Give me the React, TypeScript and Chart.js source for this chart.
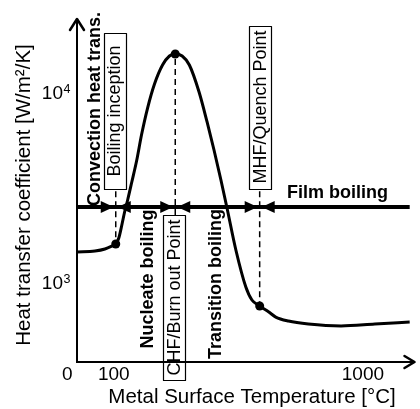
import React, { useEffect, useRef } from "react";
import { Chart, registerables } from "chart.js";

Chart.register(...registerables);

const FONT = "'Liberation Sans', Arial, Helvetica, sans-serif";

// Schematic boiling curve: metal surface temperature [°C] -> heat transfer coefficient [W/m²/K]
const curveT = [-33, 32, 68, 93, 107, 118, 129, 139, 150, 165, 183, 200, 222, 247, 276, 301, 322, 347, 373, 408, 437, 462, 487, 509, 541, 577, 599, 627, 660, 685, 731, 803, 921, 1043, 1169];
const curveH = [1439, 1456, 1492, 1546, 1585, 1704, 1995, 2336, 2702, 3360, 4386, 5938, 8236, 11020, 13870, 15470, 15850, 15470, 13870, 10000, 6955, 4952, 3442, 2452, 1474, 941, 804, 748, 695, 654, 623, 601, 587, 601, 616];

// Regime boundary points: boiling inception, CHF, MHF
const markerT = [107, 322, 627];
const markerH = [1585, 15850, 748];
// other end of each dashed guide line
const guideEndH = [3000, 2252, 3000];

// regime separator line
const sepH = 2482;
const sepEndT = 1169;

// axes ranges
const X_MIN = -33;
const X_MAX = 1190;
const Y_MIN = 379.3;
const Y_MAX = 24520;

// tick labels
const xTickValues = [100, 1000];
const xTickLabels = ["100", "1000"];
const originLabel = "0";
const yTickValues = [1000, 10000];
const yTickExponents = ["3", "4"];

const xTitle = "Metal Surface Temperature [°C]";
const yTitle = "Heat transfer coefficient [W/m²/K]";

function rotText(ctx: CanvasRenderingContext2D, text: string, cx: number, cy: number, font: string) {
  ctx.save();
  ctx.translate(cx, cy);
  ctx.rotate(-Math.PI / 2);
  ctx.font = font;
  ctx.textAlign = "center";
  ctx.textBaseline = "middle";
  ctx.fillText(text, 0, 0);
  ctx.restore();
}

const overlay = {
  id: "overlay",
  afterDraw(chart: any) {
    const { ctx, chartArea: a, scales } = chart;
    const xs = scales.x;
    const ys = scales.y;
    ctx.save();
    ctx.strokeStyle = "#000";
    ctx.fillStyle = "#000";

    // axes
    ctx.lineWidth = 2;
    ctx.beginPath();
    ctx.moveTo(a.left, a.top + 1);
    ctx.lineTo(a.left, a.bottom);
    ctx.lineTo(a.right - 1, a.bottom);
    ctx.stroke();
    ctx.lineWidth = 2.5;
    ctx.lineJoin = "round";
    ctx.lineCap = "round";
    ctx.beginPath();
    ctx.moveTo(a.left - 7, a.top + 12);
    ctx.lineTo(a.left, a.top + 1);
    ctx.lineTo(a.left + 7, a.top + 12);
    ctx.moveTo(a.right - 11, a.bottom - 6);
    ctx.lineTo(a.right - 1, a.bottom);
    ctx.lineTo(a.right - 11, a.bottom + 6);
    ctx.stroke();

    // arrowheads on separator line
    const sy = ys.getPixelForValue(sepH);
    markerT.forEach((t) => {
      const d = xs.getPixelForValue(t);
      ctx.beginPath();
      ctx.moveTo(d - 2, sy);
      ctx.lineTo(d - 15, sy - 6);
      ctx.lineTo(d - 15, sy + 6);
      ctx.closePath();
      ctx.fill();
      ctx.beginPath();
      ctx.moveTo(d + 2, sy);
      ctx.lineTo(d + 15, sy - 6);
      ctx.lineTo(d + 15, sy + 6);
      ctx.closePath();
      ctx.fill();
    });

    // tick labels
    ctx.font = `19px ${FONT}`;
    ctx.textBaseline = "alphabetic";
    ctx.textAlign = "center";
    xTickValues.forEach((v, i) => {
      ctx.fillText(xTickLabels[i], xs.getPixelForValue(v), a.bottom + 18);
    });
    ctx.textAlign = "right";
    ctx.fillText(originLabel, a.left - 4.5, a.bottom + 18);
    yTickValues.forEach((v, i) => {
      const py = ys.getPixelForValue(v);
      ctx.font = `19px ${FONT}`;
      ctx.textAlign = "right";
      ctx.fillText("10", 63, py + 6.5);
      ctx.font = `12.5px ${FONT}`;
      ctx.textAlign = "left";
      ctx.fillText(yTickExponents[i], 63.5, py + 1);
    });

    // axis titles
    ctx.font = `20.5px ${FONT}`;
    ctx.textAlign = "center";
    ctx.textBaseline = "middle";
    ctx.fillText(xTitle, 252, 397);
    rotText(ctx, yTitle, 24.5, 195, `20.5px ${FONT}`);

    // boxed labels
    ctx.lineWidth = 1.2;
    ctx.strokeRect(104.5, 33.5, 22, 156);
    ctx.strokeRect(163.5, 215.5, 22, 165);
    ctx.strokeRect(249.5, 26.5, 22, 163);
    const reg = `18px ${FONT}`;
    rotText(ctx, "Boiling inception", 115.5, 111, reg);
    rotText(ctx, "CHF/Burn out Point", 175, 297.5, reg);
    rotText(ctx, "MHF/Quench Point", 261, 107, reg);

    // regime labels
    const bold = `bold 18px ${FONT}`;
    rotText(ctx, "Convection heat trans.", 95, 109, bold);
    rotText(ctx, "Nucleate boiling", 148.5, 279, bold);
    rotText(ctx, "Transition boiling", 216.5, 284, bold);
    ctx.font = bold;
    ctx.textAlign = "center";
    ctx.textBaseline = "middle";
    ctx.fillText("Film boiling", 337.5, 193.5);

    ctx.restore();
  },
};

export default function App() {
  const ref = useRef<HTMLCanvasElement>(null);
  useEffect(() => {
    document.body.style.margin = "0";
    const canvas = ref.current!;
    const chart = new Chart(canvas, {
      type: "line",
      data: {
        datasets: [
          {
            data: markerT.map((t, i) => ({ x: t, y: markerH[i] })),
            showLine: false,
            pointRadius: 4.5,
            pointBackgroundColor: "#000",
            pointBorderWidth: 0,
            borderColor: "#000",
            order: 0,
          } as any,
          {
            data: curveT.map((t, i) => ({ x: t, y: curveH[i] })),
            borderColor: "#000",
            borderWidth: 3,
            pointRadius: 0,
            cubicInterpolationMode: "monotone",
            fill: false,
            order: 1,
          },
          ...markerT.map((t, i) => ({
            data: [
              { x: t, y: guideEndH[i] },
              { x: t, y: markerH[i] },
            ],
            borderColor: "#000",
            borderWidth: 1.5,
            borderDash: [6, 4],
            pointRadius: 0,
            fill: false,
            order: 2,
          })),
          {
            data: [
              { x: X_MIN, y: sepH },
              { x: sepEndT, y: sepH },
            ],
            borderColor: "#000",
            borderWidth: 4,
            pointRadius: 0,
            fill: false,
            order: 3,
          },
        ],
      },
      options: {
        responsive: false,
        animation: false,
        devicePixelRatio: 1,
        events: [],
        layout: { padding: { left: 77, right: 2, top: 18, bottom: 47 } },
        plugins: { legend: { display: false }, tooltip: { enabled: false } },
        scales: {
          x: { type: "linear", min: X_MIN, max: X_MAX, display: false },
          y: { type: "logarithmic", min: Y_MIN, max: Y_MAX, display: false },
        },
      },
      plugins: [overlay],
    });
    return () => chart.destroy();
  }, []);
  return (
    <div style={{ position: "fixed", left: 0, top: 0, width: 420, height: 409, background: "#fff" }}>
      <canvas ref={ref} width={420} height={409} style={{ width: 420, height: 409, display: "block" }} />
    </div>
  );
}
